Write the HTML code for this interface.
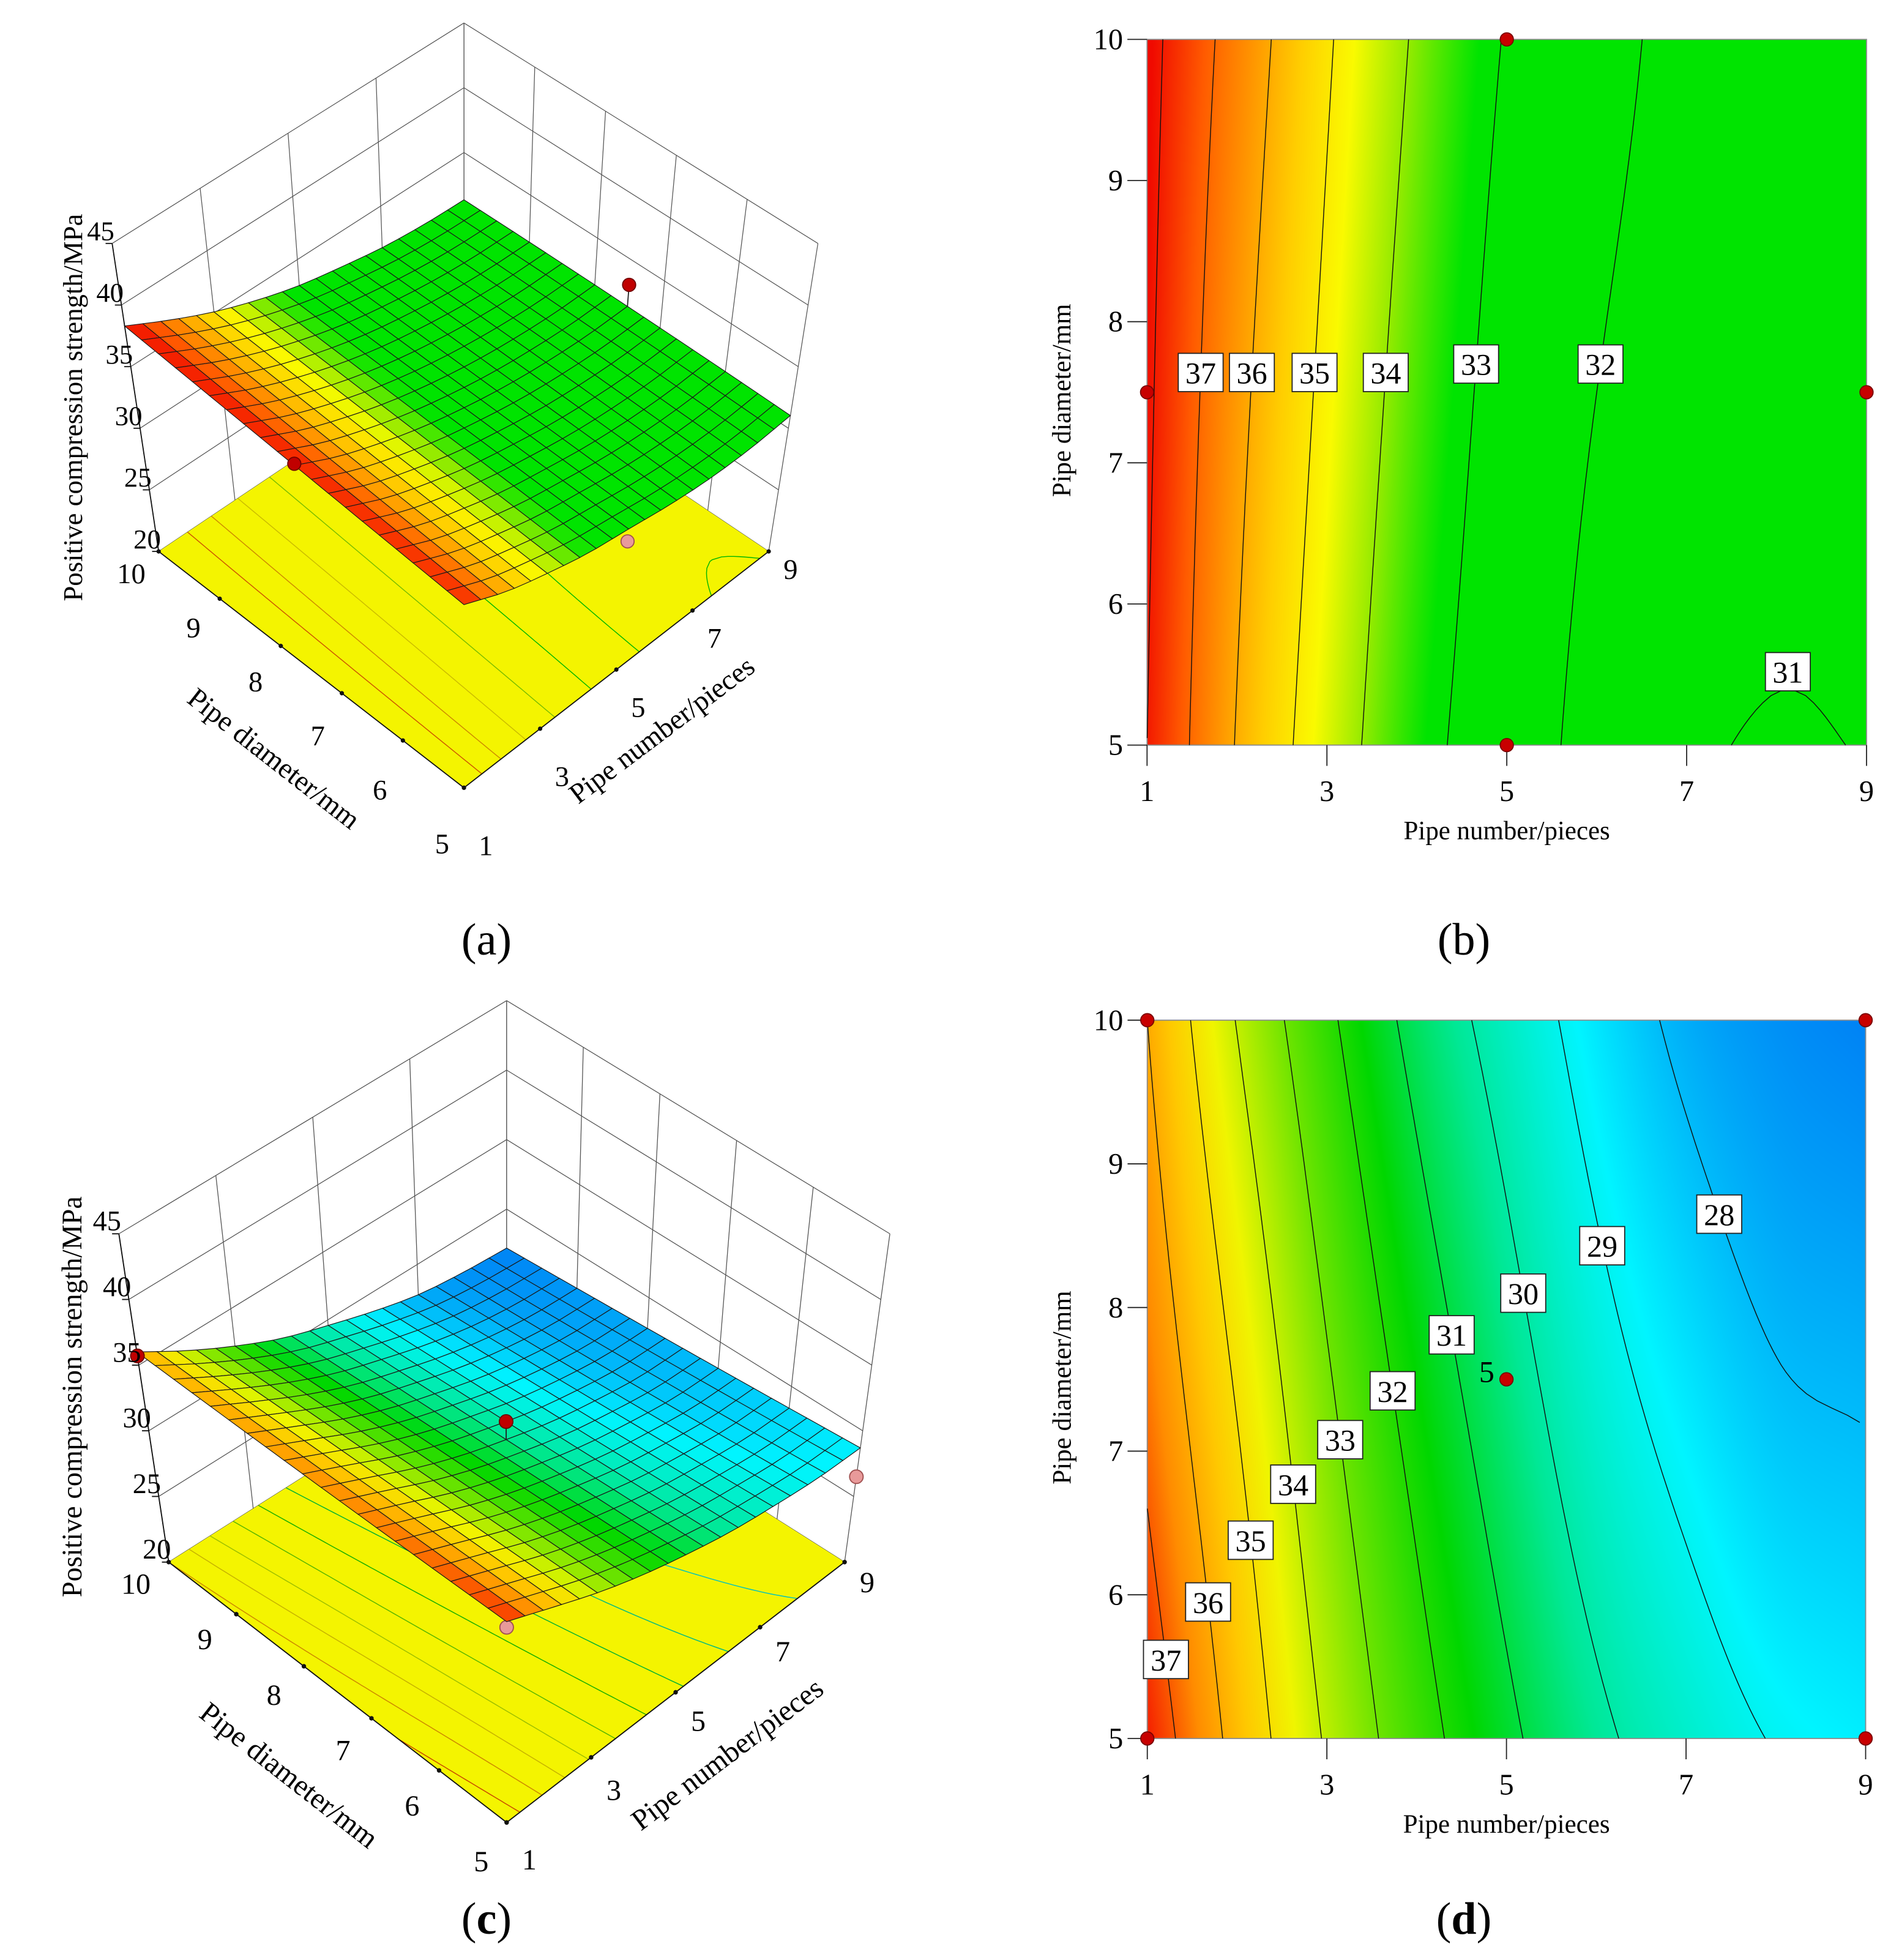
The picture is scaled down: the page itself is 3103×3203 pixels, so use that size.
<!DOCTYPE html>
<html><head><meta charset="utf-8"><title>Response surface and contour plots</title>
<style>
html,body{margin:0;padding:0;background:#fff}
#wrap{position:relative;width:3103px;height:3203px;overflow:hidden;background:#fff}
#cv,#sv{position:absolute;left:0;top:0}
text{font-family:"Liberation Serif",serif;fill:#000}
</style></head>
<body>
<div id="wrap">
<canvas id="cv" width="3103" height="3203"></canvas>
<svg id="sv" xmlns="http://www.w3.org/2000/svg" width="3103" height="3203" viewBox="0 0 3103 3203">
<g id="panelA" transform="translate(0,0) scale(0.894)"></g>
<g id="panelB" transform="translate(1700,0) scale(0.894)"></g>
<g id="panelC" transform="translate(0,1600) scale(0.925)"></g>
<g id="panelD" transform="translate(1700,1600) scale(0.896)"></g>
<text x="795" y="1560" font-size="74" text-anchor="middle">(a)</text>
<text x="2392" y="1560" font-size="74" text-anchor="middle">(b)</text>
<text x="795" y="3160" font-size="74" text-anchor="middle">(<tspan font-weight="bold">c</tspan>)</text>
<text x="2392" y="3160" font-size="74" text-anchor="middle">(<tspan font-weight="bold">d</tspan>)</text>
</svg>
</div>
<script>
// ---------- data ----------
const pipeNumbers = [1,2,3,4,5,6,7,8,9];
const diameterNodes = [5,7.5,10];
const strengthA_d5  = [38.0,35.95,34.5,33.3,32.5,31.7,31.15,30.93,31.03];
const strengthA_d75 = [38.15,36.25,34.8,33.6,32.7,32.0,31.55,31.3,31.3];
const strengthA_d10 = [38.3,36.6,35.1,33.9,32.95,32.3,31.75,31.45,31.35];
const strengthC_d5  = [37.6,35.7,33.9,32.4,31.2,30.2,29.5,28.95,28.7];
const strengthC_d75 = [36.7,34.9,33.1,31.6,30.4,29.35,28.6,28.05,27.9];
const strengthC_d10 = [36.0,33.96,32.2,30.7,29.6,28.6,27.8,27.4,27.2];
const levelsB = [38,37,36,35,34,33,32,31];
const labelLevelsB = [37,36,35,34,33,32,31];
const labelDiamB = [7.64,7.64,7.64,7.64,7.7,7.7,5.52];
const levelsD = [37,36,35,34,33,32,31,30,29,28];
const labelLevelsD = [37,36,35,34,33,32,31,30,29,28];
const labelDiamD = [5.55,5.95,6.38,6.77,7.08,7.42,7.81,8.1,8.43,8.65];
const pointsB_n = [1,5,5,9];
const pointsB_d = [7.5,10,5,7.5];
const pointsD_n = [1,9,1,9,5];
const pointsD_d = [10,10,5,5,7.5];
const pointsA_n = [9,1,5];
const pointsA_d = [7.5,7.5,5];
const pointsA_z = [33,38.3,31.4];
const pointsA_above = [true,true,false];
const pointsC_n = [1,5,1,9];
const pointsC_d = [10,7.5,5,5];
const pointsC_z = [35.7,31.8,37.1,26.5];
const pointsC_above = [true,true,false,false];
const xTicks = [1,3,5,7,9];
const yTicks = [5,6,7,8,9,10];
const zTicks = [20,25,30,35,40,45];
const diamTicks3D = [10,9,8,7,6,5];
const numTicks3D = [1,3,5,7,9];

const TA = [strengthA_d5, strengthA_d75, strengthA_d10];
const TC = [strengthC_d5, strengthC_d75, strengthC_d10];

const cmapB = [[33.2,[0,228,0]],[34.0,[150,235,0]],[34.7,[250,250,0]],[35.5,[255,205,0]],[36.3,[255,150,0]],[37.2,[255,90,0]],[38.2,[240,10,0]]];
const cmapD = [[27.2,[0,130,245]],[28.8,[0,245,255]],[30.2,[0,232,150]],[31.6,[0,215,0]],[33,[110,228,0]],[34.5,[240,245,0]],[35.5,[255,200,0]],[36.5,[255,140,0]],[37.6,[245,30,0]]];

function cmapRGB(cm, v){
  if (v <= cm[0][0]) return cm[0][1];
  for (let i=1;i<cm.length;i++){
    if (v <= cm[i][0]){
      const f=(v-cm[i-1][0])/(cm[i][0]-cm[i-1][0]);
      const a=cm[i-1][1], b=cm[i][1];
      return [a[0]+(b[0]-a[0])*f, a[1]+(b[1]-a[1])*f, a[2]+(b[2]-a[2])*f];
    }
  }
  return cm[cm.length-1][1];
}
function rgbStr(c){return 'rgb('+Math.round(c[0])+','+Math.round(c[1])+','+Math.round(c[2])+')';}

function cr(arr, x){
  const i=Math.min(7,Math.max(0,Math.floor(x))); const f=x-i;
  const p1=arr[i], p2=arr[i+1];
  const p0=i>0?arr[i-1]:2*p1-p2, p3=i<7?arr[i+2]:2*p2-p1;
  return 0.5*((2*p1)+(-p0+p2)*f+(2*p0-5*p1+4*p2-p3)*f*f+(-p0+3*p1-3*p2+p3)*f*f*f);
}
function val(T, n, d){
  const r=T.map(a=>cr(a, (n-pipeNumbers[0])));
  const [d0,d1,d2]=diameterNodes;
  const L0=(d-d1)*(d-d2)/((d0-d1)*(d0-d2));
  const L1=(d-d0)*(d-d2)/((d1-d0)*(d1-d2));
  const L2=(d-d0)*(d-d1)/((d2-d0)*(d2-d1));
  return r[0]*L0+r[1]*L1+r[2]*L2;
}
function crossings(T, level, d){
  const out=[]; let pn=1, pv=val(T,1,d);
  for (let n=1.02;n<=9.0001;n+=0.02){
    const v=val(T,n,d);
    if ((pv-level)*(v-level)<0){ out.push(pn+(level-pv)/(v-pv)*(n-pn)); }
    pn=n; pv=v;
  }
  return out;
}
function contourLines(T, level){
  const br=[[],[]];
  for (let d=5; d<=10.0001; d+=0.05){
    const c=crossings(T, level, d);
    if (c.length===1) br[0].push([c[0],d]);
    if (c.length>=2){ br[0].push([c[0],d]); br[1].push([c[c.length-1],d]); }
  }
  if (br[1].length) return [br[0].concat(br[1].slice().reverse())];
  return br[0].length?[br[0]]:[];
}

const NS='http://www.w3.org/2000/svg';
function mk(tag, parent){ const e=document.createElementNS(NS,tag); parent.appendChild(e); return e; }

const cv=document.getElementById('cv'); const ctx=cv.getContext('2d');

function heatPanel(gid, H, T, cm, levels, labelLevels, labelDiam, pn, pd, extra5){
  const g=document.getElementById(gid);
  const xs=n=>H.x0+(n-1)/8*(H.x1-H.x0);
  const ys=d=>H.y0+(10-d)/5*(H.y1-H.y0);
  const px0=Math.floor(H.ox+H.s*H.x0), px1=Math.ceil(H.ox+H.s*H.x1);
  const py0=Math.floor(H.oy+H.s*H.y0), py1=Math.ceil(H.oy+H.s*H.y1);
  const w=px1-px0, h=py1-py0; const img=ctx.createImageData(w,h);
  for (let j=0;j<h;j++){
    const zy=(py0+j+0.5-H.oy)/H.s; const d=10-(zy-H.y0)/(H.y1-H.y0)*5;
    for (let i=0;i<w;i++){
      const zx=(px0+i+0.5-H.ox)/H.s; const n=1+(zx-H.x0)/(H.x1-H.x0)*8;
      const c=cmapRGB(cm, val(T,Math.min(9,Math.max(1,n)),Math.min(10,Math.max(5,d))));
      const k=(j*w+i)*4; img.data[k]=c[0]; img.data[k+1]=c[1]; img.data[k+2]=c[2]; img.data[k+3]=255;
    }
  }
  ctx.putImageData(img,px0,py0);
  const fr=mk('rect',g);
  
  
  fr.setAttribute('x',H.x0); fr.setAttribute('y',H.y0); fr.setAttribute('width',H.x1-H.x0); fr.setAttribute('height',H.y1-H.y0);
  fr.setAttribute('fill','none'); fr.setAttribute('stroke','#8a8a8a'); fr.setAttribute('stroke-width','2');
  levels.forEach(L=>{
    contourLines(T,L).forEach(line=>{
      const p=mk('polyline',g);
      
      
      p.setAttribute('points', line.map(q=>xs(q[0]).toFixed(1)+','+ys(q[1]).toFixed(1)).join(' '));
      p.setAttribute('fill','none'); p.setAttribute('stroke','#111'); p.setAttribute('stroke-width','1.6');
    });
  });
  labelLevels.forEach((L,i)=>{
    let d=labelDiam[i], c=crossings(T,L,d), dd=d;
    while(!c.length && dd>5){ dd-=0.02; c=crossings(T,L,dd); }
    if(!c.length) return;
    const n=c.reduce((a,b)=>a+b,0)/c.length;
    const cx=xs(n), cy=ys(d);
    const b=mk('rect',g);
    
    
    b.setAttribute('x',cx-41); b.setAttribute('y',cy-35); b.setAttribute('width',82); b.setAttribute('height',70);
    b.setAttribute('fill','#fff'); b.setAttribute('stroke','#222'); b.setAttribute('stroke-width','2');
    const t=mk('text',g);
    
    
    t.setAttribute('x',cx); t.setAttribute('y',cy+20); t.setAttribute('font-size','56'); t.setAttribute('text-anchor','middle');
    t.textContent=String(L);
  });
  xTicks.forEach(n=>{
    const l=mk('line',g);
    
    
    l.setAttribute('x1',xs(n)); l.setAttribute('x2',xs(n)); l.setAttribute('y1',H.y1); l.setAttribute('y2',H.y1+38);
    l.setAttribute('stroke','#222'); l.setAttribute('stroke-width','2');
    const t=mk('text',g);
    
    
    t.setAttribute('x',xs(n)); t.setAttribute('y',H.y1+102); t.setAttribute('font-size','54'); t.setAttribute('text-anchor','middle');
    t.textContent=String(n);
  });
  yTicks.forEach(d=>{
    const l=mk('line',g);
    
    
    l.setAttribute('x1',H.x0-36); l.setAttribute('x2',H.x0); l.setAttribute('y1',ys(d)); l.setAttribute('y2',ys(d));
    l.setAttribute('stroke','#222'); l.setAttribute('stroke-width','2');
    const t=mk('text',g);
    
    
    t.setAttribute('x',H.x0-44); t.setAttribute('y',ys(d)+18); t.setAttribute('font-size','54'); t.setAttribute('text-anchor','end');
    t.textContent=String(d);
  });
  const xt=mk('text',g);
  
  
  xt.setAttribute('x',(H.x0+H.x1)/2); xt.setAttribute('y',H.y1+172); xt.setAttribute('font-size','48'); xt.setAttribute('text-anchor','middle');
  xt.textContent='Pipe number/pieces';
  const yt=mk('text',g);
  
  
  const ycx=H.x0-140, ycy=(H.y0+H.y1)/2+15;
  yt.setAttribute('x',ycx); yt.setAttribute('y',ycy); yt.setAttribute('font-size','48'); yt.setAttribute('text-anchor','middle');
  yt.setAttribute('transform','rotate(-90 '+ycx+' '+ycy+')');
  yt.textContent='Pipe diameter/mm';
  pn.forEach((n,i)=>{
    const c=mk('circle',g);
    
    
    c.setAttribute('cx',xs(n)); c.setAttribute('cy',ys(pd[i])); c.setAttribute('r',12);
    c.setAttribute('fill','#c80000'); c.setAttribute('stroke','#7a0000'); c.setAttribute('stroke-width','2');
  });
  if (extra5){
    const t=mk('text',g);
    
    
    t.setAttribute('x',xs(5)-22); t.setAttribute('y',ys(7.5)+5); t.setAttribute('font-size','56'); t.setAttribute('text-anchor','end');
    t.textContent='5';
  }
}

heatPanel('panelB',{ox:1700,oy:0,s:0.894,x0:195,x1:1510,y0:72,y1:1362},TA,cmapB,levelsB,labelLevelsB,labelDiamB,pointsB_n,pointsB_d,false);
heatPanel('panelD',{ox:1700,oy:1600,s:0.896,x0:195,x1:1505,y0:75,y1:1385},TC,cmapD,levelsD,labelLevelsD,labelDiamD,pointsD_n,pointsD_d,true);

function P3(P,n,d,z){
  const u=(n-1)/8, v=(10-d)/5, t=(z-20)/25;
  const wA=(1-u)*(1-v), wB=(1-u)*v, wC=u*v, wD=u*(1-v);
  const x=wA*P.A[0]+wB*P.B[0]+wC*P.C[0]+wD*P.D[0]+t*(wA*P.cA[0]+wB*P.cB[0]+wC*P.cC[0]+wD*P.cD[0]);
  const y=wA*P.A[1]+wB*P.B[1]+wC*P.C[1]+wD*P.D[1]+t*(wA*P.cA[1]+wB*P.cB[1]+wC*P.cC[1]+wD*P.cD[1]);
  return [x,y];
}
function line3(g,p,q,stroke,w,name){
  const l=mk('line',g);
  
  
  l.setAttribute('x1',p[0].toFixed(1)); l.setAttribute('y1',p[1].toFixed(1)); l.setAttribute('x2',q[0].toFixed(1)); l.setAttribute('y2',q[1].toFixed(1));
  l.setAttribute('stroke',stroke); l.setAttribute('stroke-width',w);
}
function poly3(g,pts,fill,stroke,w,name){
  const p=mk('polygon',g);
  
  
  p.setAttribute('points',pts.map(q=>q[0].toFixed(1)+','+q[1].toFixed(1)).join(' '));
  p.setAttribute('fill',fill); p.setAttribute('stroke',stroke); p.setAttribute('stroke-width',w);
}
function txt(g,x,y,s,size,anchor,name,rot){
  const t=mk('text',g);
  
  
  t.setAttribute('x',x.toFixed(1)); t.setAttribute('y',y.toFixed(1)); t.setAttribute('font-size',size); t.setAttribute('text-anchor',anchor);
  if (rot) t.setAttribute('transform','rotate('+rot+' '+x.toFixed(1)+' '+y.toFixed(1)+')');
  t.textContent=s;
}

function surfacePanel(gid,P,T,cm,levels,pn,pd,pz,pab,cfg){
  const g=document.getElementById(gid);
  poly3(g,[P3(P,1,10,20),P3(P,9,10,20),P3(P,9,10,45),P3(P,1,10,45)],'#fff','none',0,'left-back-wall');
  poly3(g,[P3(P,9,10,20),P3(P,9,5,20),P3(P,9,5,45),P3(P,9,10,45)],'#fff','none',0,'right-back-wall');
  zTicks.forEach(z=>{ line3(g,P3(P,1,10,z),P3(P,9,10,z),'#555',1.4,'wall-grid-line'); line3(g,P3(P,9,10,z),P3(P,9,5,z),'#555',1.4,'wall-grid-line'); });
  numTicks3D.forEach(n=>line3(g,P3(P,n,10,20),P3(P,n,10,45),'#555',1.4,'wall-grid-line'));
  diamTicks3D.forEach(d=>line3(g,P3(P,9,d,20),P3(P,9,d,45),'#555',1.4,'wall-grid-line'));
  poly3(g,[P3(P,1,10,20),P3(P,1,5,20),P3(P,9,5,20),P3(P,9,10,20)],'#f4f400','none',0,'floor-contour-plane');
  levels.forEach(L=>{
    const col=rgbStr(cmapRGB(cm,L).map(c=>c*0.8));
    contourLines(T,L).forEach(line=>{
      const p=mk('polyline',g);
      
      
      p.setAttribute('points',line.map(q=>{const s=P3(P,q[0],q[1],20);return s[0].toFixed(1)+','+s[1].toFixed(1);}).join(' '));
      p.setAttribute('fill','none'); p.setAttribute('stroke',col); p.setAttribute('stroke-width','1.6');
    });
  });
  line3(g,P3(P,1,10,20),P3(P,1,10,45),'#111',2,'z-axis-line');
  line3(g,P3(P,1,10,20),P3(P,1,5,20),'#111',2,'diameter-axis-line');
  line3(g,P3(P,1,5,20),P3(P,9,5,20),'#111',2,'number-axis-line');
  const N=20;
  const quads=[];
  for(let i=0;i<N;i++)for(let j=0;j<N;j++){
    const n0=1+8*i/N,n1=1+8*(i+1)/N,d0=10-5*j/N,d1=10-5*(j+1)/N;
    quads.push({key:(j-i),n0,n1,d0,d1});
  }
  quads.sort((a,b)=>a.key-b.key);
  pn.forEach((n,i)=>{ if(!pab[i]){ const s=P3(P,n,pd[i],pz[i]); const c=mk('circle',g);
    
    
    c.setAttribute('cx',s[0]); c.setAttribute('cy',s[1]); c.setAttribute('r',12); c.setAttribute('fill','#e89a9a'); c.setAttribute('stroke','#a05050'); c.setAttribute('stroke-width','2'); }});
  quads.forEach(q=>{
    const v=val(T,(q.n0+q.n1)/2,(q.d0+q.d1)/2);
    poly3(g,[P3(P,q.n0,q.d0,val(T,q.n0,q.d0)),P3(P,q.n1,q.d0,val(T,q.n1,q.d0)),P3(P,q.n1,q.d1,val(T,q.n1,q.d1)),P3(P,q.n0,q.d1,val(T,q.n0,q.d1))],rgbStr(cmapRGB(cm,v)),'#1a1a1a',1.3,'surface-cell');
  });
  pn.forEach((n,i)=>{ if(pab[i]){ const s=P3(P,n,pd[i],pz[i]); const sf=P3(P,n,pd[i],val(T,n,pd[i]));
    line3(g,s,sf,'#222',2,'design-point-stem');
    const c=mk('circle',g);
    
    
    c.setAttribute('cx',s[0]); c.setAttribute('cy',s[1]); c.setAttribute('r',12); c.setAttribute('fill','#c00000'); c.setAttribute('stroke','#700000'); c.setAttribute('stroke-width','2'); }});
  zTicks.forEach(z=>{ const s=P3(P,1,10,z); line3(g,s,[s[0]-12,s[1]],'#111',2,'z-tick'); txt(g,s[0]+4,s[1]-6,String(z),50,'end','z-tick-label'); });
  diamTicks3D.forEach(d=>{ const v=(10-d)/5; const s=P3(P,1,d,20);
    const c=mk('circle',g);
    
    
    c.setAttribute('cx',s[0]); c.setAttribute('cy',s[1]); c.setAttribute('r',4); c.setAttribute('fill','#111');
    txt(g,s[0]+cfg.dx0+cfg.dx1*v,s[1]+cfg.dy0+cfg.dy1*v+18,String(d),52,'middle','diameter-tick-label'); });
  numTicks3D.forEach(n=>{ const u=(n-1)/8; const s=P3(P,n,5,20);
    const c=mk('circle',g);
    
    
    c.setAttribute('cx',s[0]); c.setAttribute('cy',s[1]); c.setAttribute('r',4); c.setAttribute('fill','#111');
    txt(g,s[0]+40,s[1]+cfg.ny0+cfg.ny1*u+18,String(n),52,'middle','number-tick-label'); });
  txt(g,cfg.zt[0],cfg.zt[1],'Positive compression strength/MPa',50,'middle','z-axis-title',-90);
  txt(g,cfg.dt[0],cfg.dt[1],'Pipe diameter/mm',52,'middle','diameter-axis-title',38);
  txt(g,cfg.nt[0],cfg.nt[1],'Pipe number/pieces',52,'middle','number-axis-title',-37);
}

surfacePanel('panelA',
  {A:[290,1008],B:[848,1440],C:[1405,1008],D:[848,634],cA:[-85,-563],cB:[0,-465],cC:[90,-563],cD:[0,-592]},
  TA,cmapB,[32,33,34,35,36,37,31],pointsA_n,pointsA_d,pointsA_z,pointsA_above,
  {dx0:-50,dx1:10,dy0:40,dy1:62,ny0:105,ny1:-73,zt:[150,745],dt:[490,1400],nt:[1220,1348]});
surfacePanel('panelC',
  {A:[298,1030],B:[895,1490],C:[1492,1030],D:[895,652],cA:[-88,-580],cB:[0,-504],cC:[80,-580],cD:[0,-614]},
  TC,cmapD,[28,29,30,31,32,33,34,35,36,37],pointsC_n,pointsC_d,pointsC_z,pointsC_above,
  {dx0:-58,dx1:13,dy0:38,dy1:30,ny0:65,ny1:-30,zt:[144,738],dt:[500,1420],nt:[1295,1383]});
</script>
</body></html>
